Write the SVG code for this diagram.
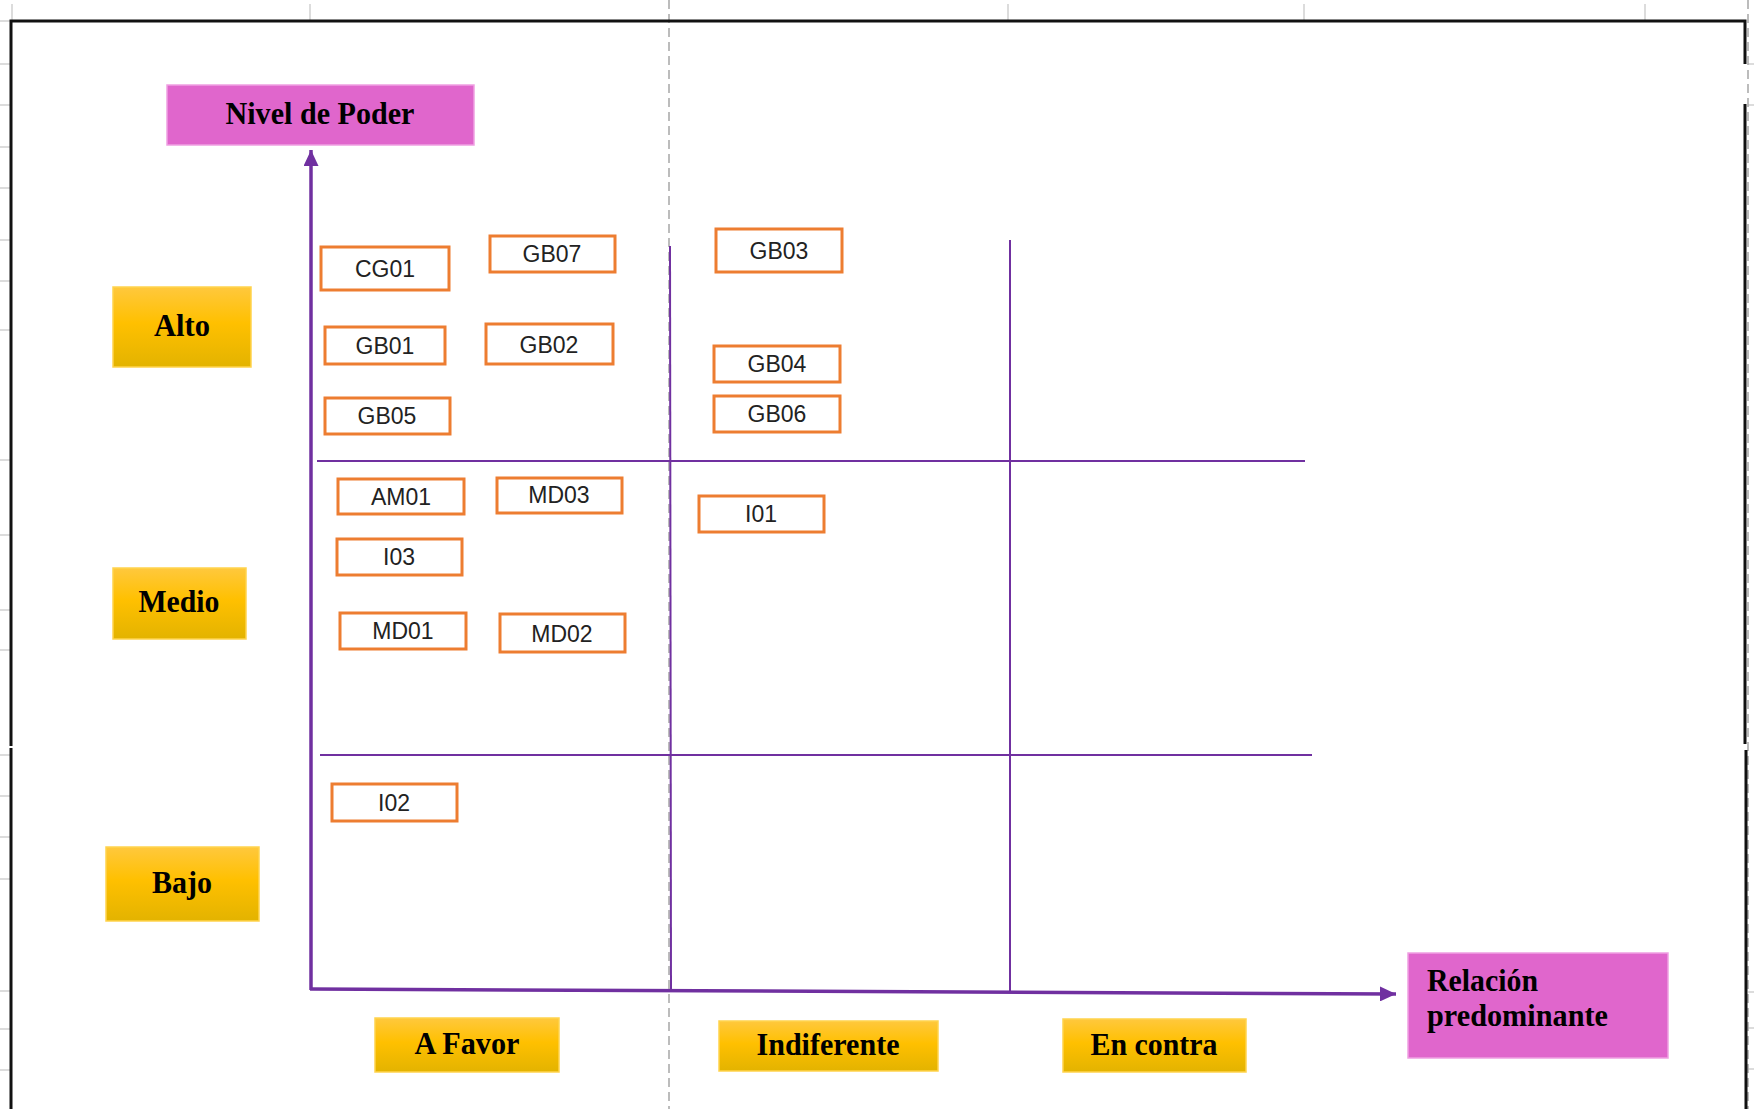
<svg xmlns="http://www.w3.org/2000/svg" width="1754" height="1109" viewBox="0 0 1754 1109">
<defs>
<linearGradient id="gold" x1="0" y1="0" x2="0" y2="1">
<stop offset="0" stop-color="#FFC83D"/>
<stop offset="0.45" stop-color="#FFC000"/>
<stop offset="1" stop-color="#E3B300"/>
</linearGradient>
<marker id="arr" viewBox="0 0 16 15" refX="16" refY="7.5" markerWidth="16" markerHeight="15" markerUnits="userSpaceOnUse" orient="auto">
<path d="M0,0 L16,7.5 L0,15 z" fill="#7030A0"/>
</marker>
<style>
.tick{stroke:#D0D0D0;stroke-width:1.5}
.pb{stroke:#A6A6A6;stroke-width:1.5;stroke-dasharray:9 5;fill:none}
.border{stroke:#111;stroke-width:3;fill:none}
.axis{stroke:#7030A0;stroke-width:3.5;fill:none}
.grid{stroke:#7030A0;stroke-width:2;fill:none}
.gold{fill:url(#gold);stroke:#FFD34D;stroke-width:1.5}
.pink{fill:#E066CC;stroke:#EFA0E2;stroke-width:1.5}
.lbl{font-family:"Liberation Serif","Times New Roman",serif;font-weight:bold;font-size:31px;fill:#000}
.box{fill:#fff;stroke:#ED7D31;stroke-width:3}
.code{font-family:"Liberation Sans",Arial,sans-serif;font-size:23px;fill:#222;text-anchor:middle}
</style>
</defs>
<rect width="1754" height="1109" fill="#fff"/>
<g id="sheet">
<line class="tick" x1="12" y1="4" x2="12" y2="21"/>
<line class="tick" x1="310" y1="4" x2="310" y2="21"/>
<line class="tick" x1="1008" y1="4" x2="1008" y2="21"/>
<line class="tick" x1="1304" y1="4" x2="1304" y2="21"/>
<line class="tick" x1="1645" y1="4" x2="1645" y2="21"/>
<g>
<line class="tick" x1="0" y1="21" x2="10" y2="21"/>
<line class="tick" x1="0" y1="64" x2="10" y2="64"/>
<line class="tick" x1="0" y1="105" x2="10" y2="105"/>
<line class="tick" x1="0" y1="147" x2="10" y2="147"/>
<line class="tick" x1="0" y1="188" x2="10" y2="188"/>
<line class="tick" x1="0" y1="240" x2="10" y2="240"/>
<line class="tick" x1="0" y1="281" x2="10" y2="281"/>
<line class="tick" x1="0" y1="330" x2="10" y2="330"/>
<line class="tick" x1="0" y1="460" x2="10" y2="460"/>
<line class="tick" x1="0" y1="535" x2="10" y2="535"/>
<line class="tick" x1="0" y1="610" x2="10" y2="610"/>
<line class="tick" x1="0" y1="650" x2="10" y2="650"/>
<line class="tick" x1="0" y1="755" x2="10" y2="755"/>
<line class="tick" x1="0" y1="796" x2="10" y2="796"/>
<line class="tick" x1="0" y1="837" x2="10" y2="837"/>
<line class="tick" x1="0" y1="879" x2="10" y2="879"/>
<line class="tick" x1="0" y1="991" x2="10" y2="991"/>
<line class="tick" x1="0" y1="1029" x2="10" y2="1029"/>
<line class="tick" x1="0" y1="1070" x2="10" y2="1070"/>
<line class="tick" x1="1748" y1="64" x2="1754" y2="64"/>
<line class="tick" x1="1748" y1="105" x2="1754" y2="105"/>
<line class="tick" x1="1748" y1="992" x2="1754" y2="992"/>
<line class="tick" x1="1748" y1="1028" x2="1754" y2="1028"/>
<line class="tick" x1="1748" y1="1069" x2="1754" y2="1069"/>
</g>
<line class="pb" x1="669" y1="0" x2="669" y2="1109"/>
<line class="pb" x1="1748" y1="0" x2="1748" y2="1109"/>
<path class="border" d="M11,1109 V748 M11,746 V21 H1745 V64"/>
<path class="border" d="M1745,104 V744 M1746,750 V1109"/>
</g>
<g id="connectors">
<line class="axis" x1="311" y1="990" x2="311" y2="150" marker-end="url(#arr)"/>
<line class="axis" x1="310" y1="989" x2="1396" y2="994" marker-end="url(#arr)"/>
<line class="grid" x1="317" y1="461" x2="1305" y2="461"/>
<line class="grid" x1="320" y1="755" x2="1312" y2="755"/>
<line class="grid" x1="670" y1="246" x2="671" y2="990"/>
<line class="grid" x1="1010" y1="240" x2="1010" y2="991"/>
</g>
<g id="nivel-de-poder">
<rect class="pink" x="167" y="85" width="307" height="60"/>
<text class="lbl" x="320" y="124" text-anchor="middle" textLength="189" lengthAdjust="spacingAndGlyphs">Nivel de Poder</text>
</g>
<g id="relacion-predominante">
<rect class="pink" x="1408" y="953" width="260" height="105"/>
<text class="lbl" x="1427" y="991" textLength="111" lengthAdjust="spacingAndGlyphs">Relación</text>
<text class="lbl" x="1427" y="1026" textLength="181" lengthAdjust="spacingAndGlyphs">predominante</text>
</g>
<g id="alto">
<rect class="gold" x="113" y="287" width="138" height="80"/>
<text class="lbl" x="182" y="336" text-anchor="middle" textLength="56" lengthAdjust="spacingAndGlyphs">Alto</text>
</g>
<g id="medio">
<rect class="gold" x="113" y="568" width="133" height="71"/>
<text class="lbl" x="179" y="612" text-anchor="middle" textLength="81" lengthAdjust="spacingAndGlyphs">Medio</text>
</g>
<g id="bajo">
<rect class="gold" x="106" y="847" width="153" height="74"/>
<text class="lbl" x="182" y="893" text-anchor="middle" textLength="60" lengthAdjust="spacingAndGlyphs">Bajo</text>
</g>
<g id="a-favor">
<rect class="gold" x="375" y="1018" width="184" height="54"/>
<text class="lbl" x="467" y="1054" text-anchor="middle" textLength="105" lengthAdjust="spacingAndGlyphs">A Favor</text>
</g>
<g id="indiferente">
<rect class="gold" x="719" y="1021" width="219" height="50"/>
<text class="lbl" x="828" y="1055" text-anchor="middle" textLength="143" lengthAdjust="spacingAndGlyphs">Indiferente</text>
</g>
<g id="en-contra">
<rect class="gold" x="1063" y="1019" width="183" height="53"/>
<text class="lbl" x="1154" y="1055" text-anchor="middle" textLength="127" lengthAdjust="spacingAndGlyphs">En contra</text>
</g>
<g id="CG01"><rect class="box" x="321" y="247" width="128" height="43"/><text class="code" x="385" y="277">CG01</text></g>
<g id="GB07"><rect class="box" x="490" y="236" width="125" height="36"/><text class="code" x="552" y="262">GB07</text></g>
<g id="GB01"><rect class="box" x="325" y="327" width="120" height="37"/><text class="code" x="385" y="354">GB01</text></g>
<g id="GB02"><rect class="box" x="486" y="324" width="127" height="40"/><text class="code" x="549" y="353">GB02</text></g>
<g id="GB05"><rect class="box" x="325" y="398" width="125" height="36"/><text class="code" x="387" y="424">GB05</text></g>
<g id="GB03"><rect class="box" x="716" y="229" width="126" height="43"/><text class="code" x="779" y="259">GB03</text></g>
<g id="GB04"><rect class="box" x="714" y="346" width="126" height="36"/><text class="code" x="777" y="372">GB04</text></g>
<g id="GB06"><rect class="box" x="714" y="396" width="126" height="36"/><text class="code" x="777" y="422">GB06</text></g>
<g id="AM01"><rect class="box" x="338" y="479" width="126" height="35"/><text class="code" x="401" y="505">AM01</text></g>
<g id="MD03"><rect class="box" x="497" y="478" width="125" height="35"/><text class="code" x="559" y="503">MD03</text></g>
<g id="I01"><rect class="box" x="699" y="496" width="125" height="36"/><text class="code" x="761" y="522">I01</text></g>
<g id="I03"><rect class="box" x="337" y="539" width="125" height="36"/><text class="code" x="399" y="565">I03</text></g>
<g id="MD01"><rect class="box" x="340" y="613" width="126" height="36"/><text class="code" x="403" y="639">MD01</text></g>
<g id="MD02"><rect class="box" x="500" y="614" width="125" height="38"/><text class="code" x="562" y="642">MD02</text></g>
<g id="I02"><rect class="box" x="332" y="784" width="125" height="37"/><text class="code" x="394" y="811">I02</text></g>
</svg>
